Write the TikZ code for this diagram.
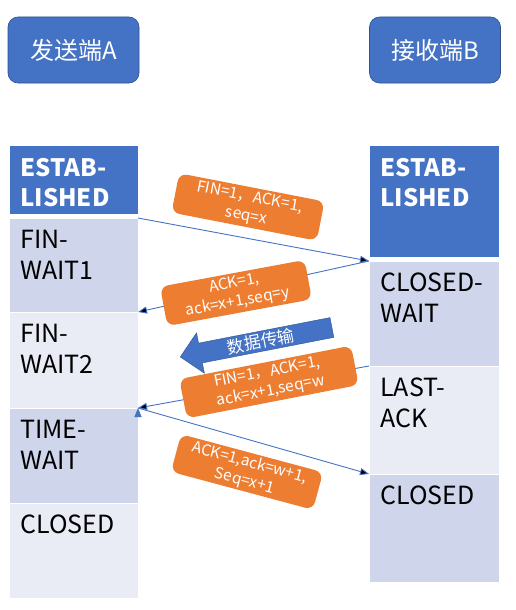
\documentclass[tikz,border=0pt]{standalone}
\usepackage{fontspec}
\setmainfont{Noto Sans CJK SC}
\usetikzlibrary{positioning, shapes.arrows, arrows.meta}
\definecolor{officeblue}{HTML}{4472C4}
\definecolor{darkblue}{HTML}{2F528F}
\definecolor{rowdark}{HTML}{CFD5EA}
\definecolor{rowlight}{HTML}{E9EBF5}
\definecolor{msgorange}{HTML}{ED7D31}

\begin{document}
\begin{tikzpicture}[x=1pt, y=1pt, semithick, node distance=0pt]
\tikzstyle{host}=[draw=darkblue, fill=officeblue, rounded corners=10pt, minimum width=131pt, minimum height=66pt, text=white, font=\fontsize{24}{28}\selectfont]
\tikzstyle{phase}=[draw=white, line width=1pt, outer sep=0pt, inner sep=0pt, minimum width=129pt]
\tikzstyle{phasehead}=[phase, fill=officeblue]
\tikzstyle{phasetext}=[anchor=north west, align=left, inner sep=0pt, xshift=11pt, yshift=-12pt, text=black, font=\fontsize{25}{31}\selectfont]
\tikzstyle{headtext}=[anchor=north west, align=left, inner sep=0pt, xshift=11pt, yshift=-13pt, text=white, font=\fontsize{24}{30}\selectfont\bfseries]
\tikzstyle{msg}=[fill=msgorange, rounded corners=8pt, text=white, align=center, inner sep=2pt, minimum height=40pt, font=\fontsize{15.5}{19}\selectfont]
\tikzstyle{msgline}=[draw=officeblue, line width=0.9pt, -{Triangle[length=9pt,width=7pt]}]
\tikzstyle{datarrow}=[single arrow, shape border rotate=180, single arrow head extend=10.5pt, single arrow head indent=0pt, fill=officeblue, draw=darkblue, thin, inner xsep=38pt, inner ysep=2pt, text=white, font=\fontsize{17}{19}\selectfont]

\useasboundingbox (0,0) rectangle (516,-610);

% hosts
\node[host] (A) at (73.5,-50) {发送端A};
\node[host] (B) at (435,-50) {接收端B};

% sender states
\node[phasehead, anchor=north west, minimum height=69pt, label={[headtext]north west:{ESTAB-\\LISHED}}] (A0) at (9,-145) {};
\node[phase, fill=rowdark, minimum height=94pt, label={[phasetext]north west:{FIN-\\WAIT1}}] (A1) [below=4pt of A0] {};
\node[phase, fill=rowlight, minimum height=96pt, label={[phasetext]north west:{FIN-\\WAIT2}}] (A2) [below=of A1] {};
\node[phase, fill=rowdark, minimum height=95pt, label={[phasetext]north west:{TIME-\\WAIT}}] (A3) [below=of A2] {};
\node[phase, fill=rowlight, minimum height=95pt, label={[phasetext]north west:{CLOSED}}] (A4) [below=of A3] {};

% receiver states
\node[phasehead, anchor=north west, minimum width=130pt, minimum height=112pt, label={[headtext]north west:{ESTAB-\\LISHED}}] (B0) at (369,-145) {};
\node[phase, fill=rowdark, minimum width=130pt, minimum height=105pt, label={[phasetext]north west:{CLOSED-\\WAIT}}] (B1) [below=4pt of B0] {};
\node[phase, fill=rowlight, minimum width=130pt, minimum height=108pt, label={[phasetext]north west:{LAST-\\ACK}}] (B2) [below=of B1] {};
\node[phase, fill=rowdark, minimum width=130pt, minimum height=108pt, label={[phasetext]north west:{CLOSED}}] (B3) [below=of B2] {};

% messages
\path[msgline]
(A1.north east) edge (B1.north west)
(B1.north west) edge (A2.north east)
(B2.north west) edge (A3.north east)
(A3.north east) edge (B3.north west);

\node[msg, rotate=-11, minimum width=148pt] (M1) at (248,-207) {FIN=1，ACK=1,\\seq=x};
\node[msg, rotate=10.5, minimum width=147pt] (M2) at (236,-293) {ACK=1,\\ack=x+1,seq=y};
\node[datarrow, anchor=tip, rotate=11] (D) at (180,-357) {数据传输};
\node[msg, rotate=11, minimum width=175pt] (M3) at (269,-382) {FIN=1，ACK=1,\\ack=x+1,seq=w};
\node[msg, rotate=-15, minimum width=147pt, minimum height=37pt] (M4) at (247,-472) {ACK=1,ack=w+1,\\Seq=x+1};

\end{tikzpicture}
\end{document}
